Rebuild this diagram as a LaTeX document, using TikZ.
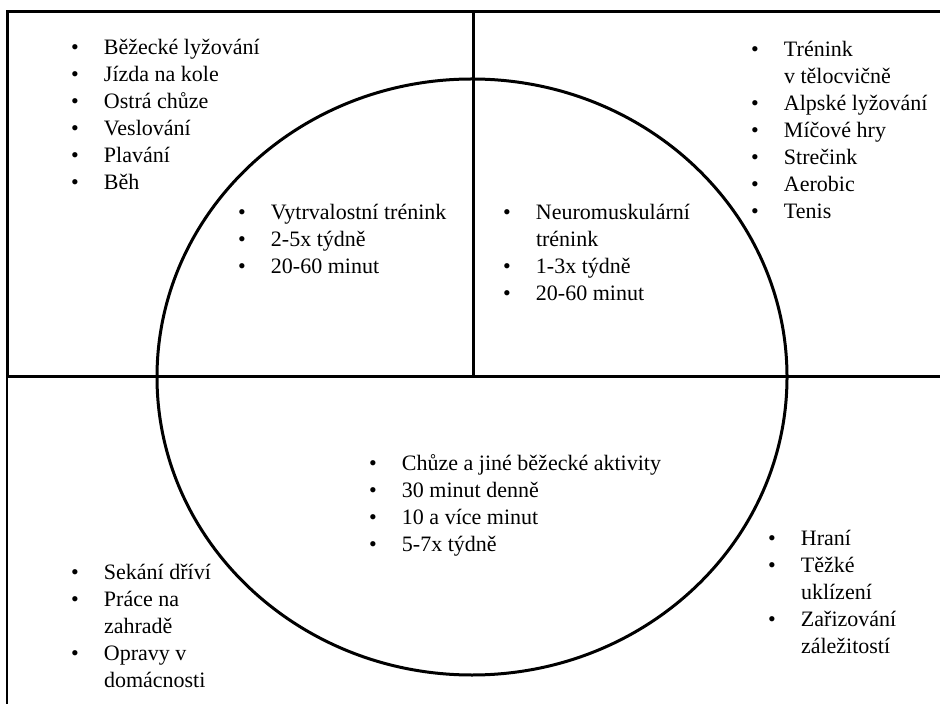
\documentclass[tikz,border=0pt]{standalone}
\usepackage{fontspec}
\setmainfont{Liberation Serif}
\usepackage{array}
\newcommand{\blist}[1]{{\fontsize{11}{13.5}\selectfont\begin{tabular}[t]{@{}p{16.5pt}@{}l@{}}#1\end{tabular}}}
\tikzset{
  frame/.style={line width=1.5pt},
  thinframe/.style={line width=0.8pt},
  oval/.style={line width=1.5pt},
  listbox/.style={inner sep=0pt, outer sep=0pt, anchor=base west}
}
\begin{document}
\begin{tikzpicture}[x=0.5pt,y=-0.5pt]
\useasboundingbox (0,0) rectangle (940,704);
% frame
\draw[frame] (940,12) -- (7,12) -- (7,377) -- (940,377);
\draw[frame] (473,12) -- (473,377);
\draw[thinframe] (7,377) -- (7,704);
% circle
\draw[oval] (472,377) ellipse [x radius=315, y radius=298];
% lists
\node[listbox] (tl) at (71,55) {\blist{
• & Běžecké lyžování\\
• & Jízda na kole\\
• & Ostrá chůze\\
• & Veslování\\
• & Plavání\\
• & Běh}};
\node[listbox] (cl) at (238,220) {\blist{
• & Vytrvalostní trénink\\
• & 2-5x týdně\\
• & 20-60 minut}};
\node[listbox] (tr) at (751,57) {\blist{
• & Trénink\\
 & v tělocvičně\\
• & Alpské lyžování\\
• & Míčové hry\\
• & Strečink\\
• & Aerobic\\
• & Tenis}};
\node[listbox] (cr) at (503,220) {\blist{
• & Neuromuskulární\\
 & trénink\\
• & 1-3x týdně\\
• & 20-60 minut}};
\node[listbox] (bc) at (369,470) {\blist{
• & Chůze a jiné běžecké aktivity\\
• & 30 minut denně\\
• & 10 a více minut\\
• & 5-7x týdně}};
\node[listbox] (bl) at (71,579) {\blist{
• & Sekání dříví\\
• & Práce na\\
 & zahradě\\
• & Opravy v\\
 & domácnosti}};
\node[listbox] (br) at (768,545) {\blist{
• & Hraní\\
• & Těžké\\
 & uklízení\\
• & Zařizování\\
 & záležitostí}};
\end{tikzpicture}
\end{document}
